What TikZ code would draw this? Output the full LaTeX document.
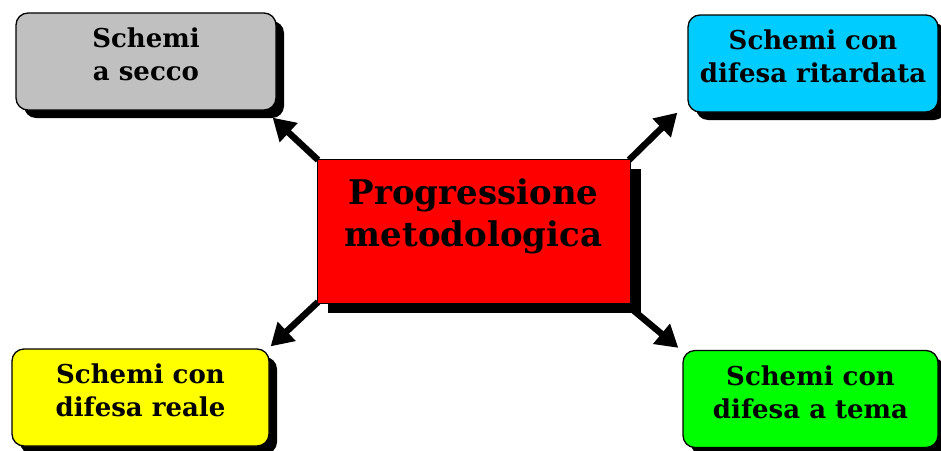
\documentclass[tikz,border=0pt]{standalone}
\usepackage{fontspec}
\setmainfont{DejaVu Serif}
\usetikzlibrary{shadows,arrows.meta}
\definecolor{boxgray}{HTML}{C0C0C0}
\definecolor{boxcyan}{HTML}{00CCFF}
\definecolor{boxred}{HTML}{FF0000}
\definecolor{boxyellow}{HTML}{FFFF00}
\definecolor{boxgreen}{HTML}{00FF00}
\tikzset{
  leaf/.style={draw=black, line width=1.3pt, rounded corners=12pt, inner sep=0pt,
    minimum height=97pt,
    drop shadow={shadow xshift=8pt, shadow yshift=-8pt, opacity=1, fill=black}},
  hub/.style={draw=black, line width=0.8pt, inner sep=0pt,
    minimum width=313pt, minimum height=144pt, fill=boxred,
    drop shadow={shadow xshift=11pt, shadow yshift=-10pt, opacity=1, fill=black}},
  leaftext/.style={align=center, font=\fontsize{26}{33}\selectfont\bfseries, inner sep=0pt},
  hubtext/.style={align=center, font=\fontsize{34}{42}\selectfont\bfseries, inner sep=0pt},
  arr/.style={line width=6.5pt, -{Triangle[length=22pt,width=25pt]}}
}
\begin{document}
\begin{tikzpicture}[x=1pt,y=-1pt]
\useasboundingbox (0,0) rectangle (941,450);
\clip (0,0) rectangle (941,450);

% outer topics
\node[leaf, fill=boxgray,   minimum width=260pt] (secco)   at (146,61.5)  {};
\node[leaf, fill=boxcyan,   minimum width=250pt] (ritard)  at (813,63.5)  {};
\node[leaf, fill=boxyellow, minimum width=257pt] (reale)   at (140.5,397.5) {};
\node[leaf, fill=boxgreen,  minimum width=255pt] (tema)    at (810.5,399) {};

% connectors from the central box
\draw[arr] (318,160) coordinate (hubNW) -- ([xshift=-4pt,yshift=-7pt]secco.south east);
\draw[arr] (629,160) coordinate (hubNE) -- ([xshift=-10pt]ritard.south west);
\draw[arr] (318,302) coordinate (hubSW) -- ([xshift=1pt,yshift=2pt]reale.north east);
\draw[arr] (633,310) coordinate (hubSE) -- ([xshift=-4pt,yshift=2pt]tema.north west);

% central topic
\node[hub] (hub) at (473.5,231) {};

% texts
\node[leaftext] (seccoT)  at ([yshift=7pt]secco.center)  {Schemi\\a secco};
\node[leaftext] (ritardT) at ([yshift=7pt]ritard.center) {Schemi con\\difesa ritardata};
\node[leaftext] (realeT)  at ([yshift=7pt]reale.center)  {Schemi con\\difesa reale};
\node[leaftext] (temaT)   at ([yshift=7pt]tema.center)   {Schemi con\\difesa a tema};
\node[hubtext]  (hubT)    at ([yshift=15pt]hub.center)   {Progressione\\metodologica};
\end{tikzpicture}
\end{document}
